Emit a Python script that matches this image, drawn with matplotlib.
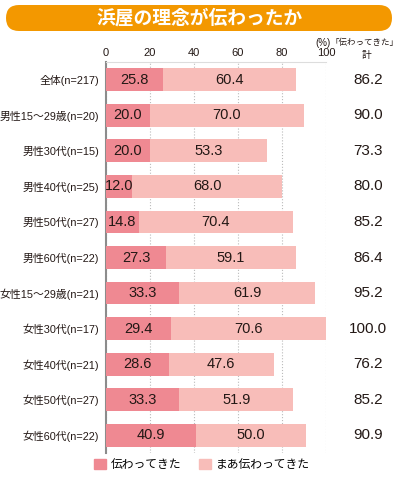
import matplotlib.pyplot as plt
from matplotlib.patches import FancyBboxPatch, Patch
import numpy as np

plt.rcParams['font.family'] = ['Liberation Sans', 'Noto Sans CJK JP', 'DejaVu Sans']

# データ
categories = ['全体(n=217)', '男性15～29歳(n=20)', '男性30代(n=15)', '男性40代(n=25)',
              '男性50代(n=27)', '男性60代(n=22)', '女性15～29歳(n=21)', '女性30代(n=17)',
              '女性40代(n=21)', '女性50代(n=27)', '女性60代(n=22)']
tsutawatta = [25.8, 20.0, 20.0, 12.0, 14.8, 27.3, 33.3, 29.4, 28.6, 33.3, 40.9]
maa_tsutawatta = [60.4, 70.0, 53.3, 68.0, 70.4, 59.1, 61.9, 70.6, 47.6, 51.9, 50.0]
totals = ['86.2', '90.0', '73.3', '80.0', '85.2', '86.4', '95.2', '100.0', '76.2', '85.2', '90.9']

dark = '#EF8992'
light = '#F8BDB9'
txt = '#231815'

fig = plt.figure(figsize=(4, 4.8), dpi=100)

# タイトル帯
banner = FancyBboxPatch((0.06, 4.49), 3.86, 0.26, boxstyle='round,pad=0,rounding_size=0.13',
                        transform=fig.dpi_scale_trans, facecolor='#F39800', edgecolor='none')
fig.patches.append(banner)
fig.text(0.5, 1 - 18 / 480, '浜屋の理念が伝わったか', color='white', fontsize=13.5,
         fontweight='bold', ha='center', va='center')

ax = fig.add_axes([106 / 400, 1 - 453 / 480, 220 / 400, 391 / 480])
y = np.arange(len(categories))
h = 0.64
ax.barh(y, tsutawatta, height=h, color=dark, zorder=3)
ax.barh(y, maa_tsutawatta, left=tsutawatta, height=h, color=light, zorder=3)

for i in range(len(categories)):
    a = tsutawatta[i]
    b = maa_tsutawatta[i]
    ax.text(a / 2, i, '%.1f' % a, ha='center', va='center', fontsize=10.5, color=txt, zorder=4)
    ax.text(a + b / 2, i, '%.1f' % b, ha='center', va='center', fontsize=10.5, color=txt, zorder=4)
    ax.text(1.19, i, totals[i], transform=ax.get_yaxis_transform(), ha='center', va='center',
            fontsize=11, color=txt)

ax.set_xlim(0, 100)
ax.set_ylim(len(categories) - 0.5, -0.5)
ax.set_yticks(y)
ax.set_yticklabels(categories, fontsize=7.8, color=txt)
ax.set_xticks([0, 20, 40, 60, 80, 100])
ax.xaxis.tick_top()
ax.tick_params(axis='x', length=0, labelsize=8, colors=txt, pad=3)
ax.tick_params(axis='y', length=0, pad=5)
ax.grid(axis='x', linestyle=':', color='#BBBBBB', linewidth=0.8, zorder=0)

for s in ['right', 'bottom']:
    ax.spines[s].set_visible(False)
ax.spines['left'].set_color('#8C8C8C')
ax.spines['left'].set_linewidth(1.5)
ax.spines['top'].set_color('#DDDDDD')
ax.spines['top'].set_linewidth(0.8)

# 右側の見出し
fig.text(331 / 400, 1 - 43 / 480, '(%)', fontsize=7, ha='right', va='center', color=txt)
fig.text(331 / 400, 1 - 43 / 480, '「伝わってきた」', fontsize=6.1, ha='left', va='center', color=txt)
fig.text(366 / 400, 1 - 55 / 480, '計', fontsize=7, ha='center', va='center', color=txt)

# 凡例
handles = [Patch(color=dark), Patch(color=light)]
fig.legend(handles, ['伝わってきた', 'まあ伝わってきた'], loc='center', bbox_to_anchor=(0.505, 1 - 465 / 480),
           ncol=2, frameon=False, fontsize=8.5, handlelength=1.0, handleheight=1.0,
           handletextpad=0.4, columnspacing=1.5)

plt.savefig('out.png', dpi=100)
